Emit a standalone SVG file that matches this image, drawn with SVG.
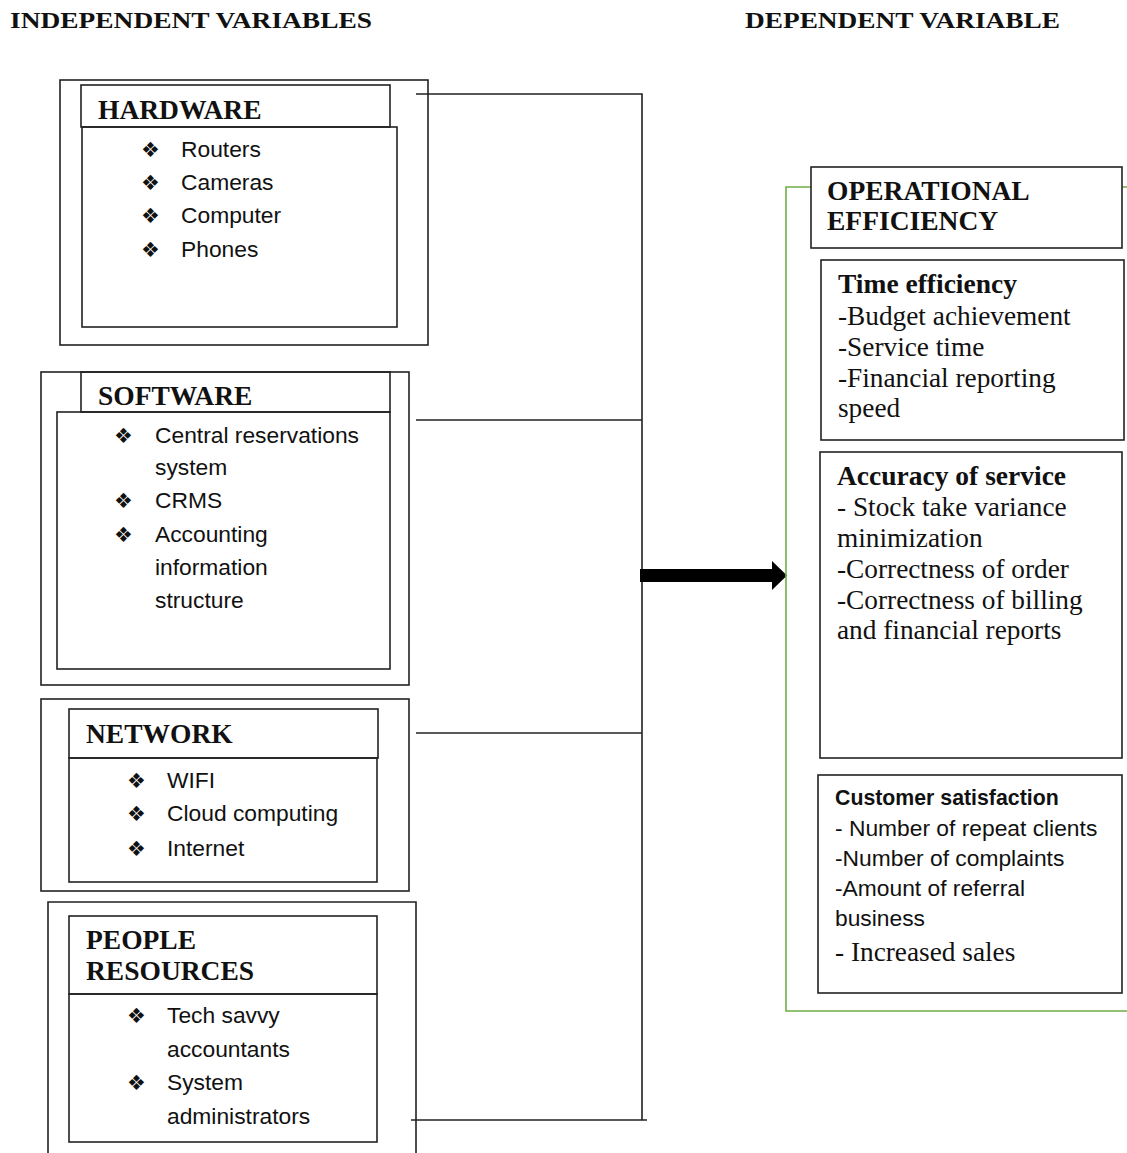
<svg xmlns="http://www.w3.org/2000/svg" width="1127" height="1153" viewBox="0 0 1127 1153">
<style>
.box{fill:none;stroke:#222;stroke-width:1.6}
.grn{fill:none;stroke:#70ad47;stroke-width:1.6}
.ln{fill:none;stroke:#222;stroke-width:1.6}
.hd{font-family:"Liberation Serif","Times New Roman",serif;font-weight:bold;font-size:24px;fill:#111}
.tt{font-family:"Liberation Serif","Times New Roman",serif;font-weight:bold;font-size:27.5px;fill:#111}
.sr{font-family:"Liberation Serif","Times New Roman",serif;font-size:27.3px;fill:#111}
.sn{font-family:"Liberation Sans",Arial,sans-serif;font-size:22.8px;fill:#111}
.snb{font-family:"Liberation Sans",Arial,sans-serif;font-size:21.3px;font-weight:bold;fill:#111}
.bl{font-family:"DejaVu Sans",sans-serif;font-size:21px;fill:#111}
</style>
<rect width="1127" height="1153" fill="#fff"/>
<text class="hd" x="10" y="28" textLength="362" lengthAdjust="spacingAndGlyphs">INDEPENDENT VARIABLES</text>
<text class="hd" x="745" y="28" textLength="315" lengthAdjust="spacingAndGlyphs">DEPENDENT VARIABLE</text>

<g id="hardware">
<rect class="box" x="60" y="80" width="368" height="265"/>
<rect class="box" x="81" y="85" width="309" height="42"/>
<rect class="box" x="82" y="127" width="315" height="200"/>
<text class="tt" x="98" y="119">HARDWARE</text>
<text class="bl" x="141" y="157">❖</text><text class="sn" x="181" y="157">Routers</text>
<text class="bl" x="141" y="190">❖</text><text class="sn" x="181" y="190">Cameras</text>
<text class="bl" x="141" y="223">❖</text><text class="sn" x="181" y="223">Computer</text>
<text class="bl" x="141" y="257">❖</text><text class="sn" x="181" y="257">Phones</text>
</g>

<g id="software">
<rect class="box" x="41" y="372" width="368" height="313"/>
<rect class="box" x="81" y="372" width="309" height="40"/>
<rect class="box" x="57" y="412" width="333" height="257"/>
<text class="tt" x="98" y="405">SOFTWARE</text>
<text class="bl" x="114" y="443">❖</text><text class="sn" x="155" y="443">Central reservations</text>
<text class="sn" x="155" y="475">system</text>
<text class="bl" x="114" y="508">❖</text><text class="sn" x="155" y="508">CRMS</text>
<text class="bl" x="114" y="542">❖</text><text class="sn" x="155" y="542">Accounting</text>
<text class="sn" x="155" y="575">information</text>
<text class="sn" x="155" y="608">structure</text>
</g>

<g id="network">
<rect class="box" x="41" y="699" width="368" height="192"/>
<rect class="box" x="69" y="709" width="309" height="49"/>
<rect class="box" x="69" y="758" width="308" height="124"/>
<text class="tt" x="86" y="743">NETWORK</text>
<text class="bl" x="127" y="788">❖</text><text class="sn" x="167" y="788">WIFI</text>
<text class="bl" x="127" y="821">❖</text><text class="sn" x="167" y="821">Cloud computing</text>
<text class="bl" x="127" y="856">❖</text><text class="sn" x="167" y="856">Internet</text>
</g>

<g id="people">
<path class="box" d="M48 1153 V902 H416 V1153"/>
<rect class="box" x="69" y="916" width="308" height="78"/>
<rect class="box" x="69" y="994" width="308" height="148"/>
<text class="tt" x="86" y="949">PEOPLE</text>
<text class="tt" x="86" y="980">RESOURCES</text>
<text class="bl" x="127" y="1023">❖</text><text class="sn" x="167" y="1023">Tech savvy</text>
<text class="sn" x="167" y="1057">accountants</text>
<text class="bl" x="127" y="1090">❖</text><text class="sn" x="167" y="1090">System</text>
<text class="sn" x="167" y="1124">administrators</text>
</g>

<g id="connectors">
<path class="ln" d="M416 94 H642 V1120"/>
<path class="ln" d="M416 420 H642"/>
<path class="ln" d="M416 733 H642"/>
<path class="ln" d="M411 1120 H647"/>
<path d="M640 569 H772 V561 L787 575.5 L772 590 V582 H640 Z" fill="#000"/>
</g>

<g id="dependent">
<path class="grn" d="M1127 187 H786 V1011 H1127"/>
<rect x="811" y="167" width="311" height="81" fill="#fff" stroke="#222" stroke-width="1.6"/>
<text class="tt" x="827" y="200">OPERATIONAL</text>
<text class="tt" x="827" y="230">EFFICIENCY</text>
</g>

<g id="time-efficiency">
<rect class="box" x="821" y="260" width="303" height="180"/>
<text class="tt" x="838" y="293">Time efficiency</text>
<text class="sr" x="838" y="325">-Budget achievement</text>
<text class="sr" x="838" y="356">-Service time</text>
<text class="sr" x="838" y="387">-Financial reporting</text>
<text class="sr" x="838" y="417">speed</text>
</g>

<g id="accuracy">
<rect class="box" x="820" y="452" width="302" height="306"/>
<text class="tt" x="837" y="485">Accuracy of service</text>
<text class="sr" x="837" y="516">- Stock take variance</text>
<text class="sr" x="837" y="547">minimization</text>
<text class="sr" x="837" y="578">-Correctness of order</text>
<text class="sr" x="837" y="609">-Correctness of billing</text>
<text class="sr" x="837" y="639">and financial reports</text>
</g>

<g id="customer">
<rect class="box" x="818" y="775" width="304" height="218"/>
<text class="snb" x="835" y="805">Customer satisfaction</text>
<text class="sn" x="835" y="836">- Number of repeat clients</text>
<text class="sn" x="835" y="866">-Number of complaints</text>
<text class="sn" x="835" y="896">-Amount of referral</text>
<text class="sn" x="835" y="926">business</text>
<text class="sr" x="835" y="961">- Increased sales</text>
</g>
</svg>
